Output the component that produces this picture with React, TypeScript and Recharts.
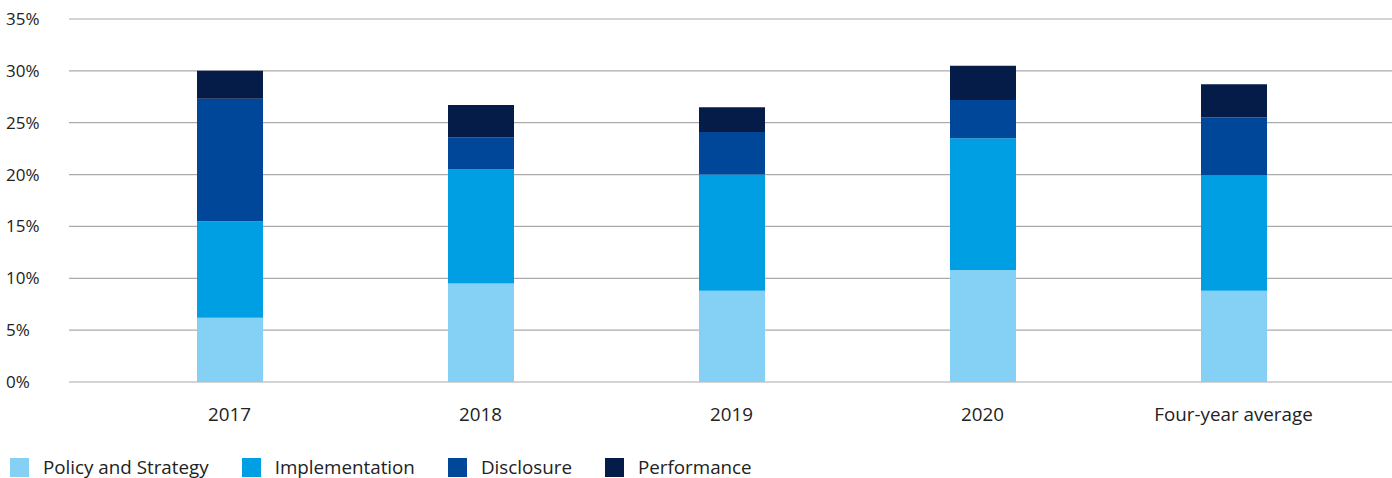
import { BarChart, Bar, XAxis, YAxis, CartesianGrid, Legend } from 'recharts';

const categories = ['2017', '2018', '2019', '2020', 'Four-year average'];
const policyStrategy = [6.2, 9.5, 8.8, 10.8, 8.8];
const implementation = [9.3, 11.0, 11.2, 12.7, 11.1];
const disclosure = [11.8, 3.1, 4.1, 3.7, 5.6];
const performance = [2.7, 3.1, 2.4, 3.3, 3.2];
const yTicks = [0, 5, 10, 15, 20, 25, 30, 35];

const series = [
  { key: 'policy', name: 'Policy and Strategy', color: '#85D1F5' },
  { key: 'implementation', name: 'Implementation', color: '#009FE3' },
  { key: 'disclosure', name: 'Disclosure', color: '#004699' },
  { key: 'performance', name: 'Performance', color: '#051C48' },
];

const data = categories.map((name, i) => ({
  name,
  policy: policyStrategy[i],
  implementation: implementation[i],
  disclosure: disclosure[i],
  performance: performance[i],
}));

const font = '"Open Sans", "Noto Sans", sans-serif';

const YTick = ({ y, payload }: any) => (
  <text x={6} y={y} dy={6} textAnchor="start" fill="#222" fontSize={17} fontFamily={font}>
    {`${payload.value}%`}
  </text>
);

const LegendContent = () => (
  <div style={{ display: 'flex', alignItems: 'center', paddingLeft: 10, paddingTop: 22, fontFamily: font, fontSize: 18.8, color: '#222', lineHeight: '26px' }}>
    {series.map((s) => (
      <div key={s.key} style={{ display: 'flex', alignItems: 'center', marginRight: 33 }}>
        <span style={{ width: 19, height: 19, background: s.color, marginRight: 14, display: 'inline-block' }} />
        <span>{s.name}</span>
      </div>
    ))}
  </div>
);

export default function App() {
  return (
    <div style={{ position: 'absolute', left: 0, top: 0, background: '#fff' }}>
      <BarChart width={1392} height={478} data={data} margin={{ top: 19, right: 0, left: 0, bottom: 0 }}>
        <CartesianGrid horizontal vertical={false} stroke="#aaa" strokeWidth={1.2} />
        <XAxis
          dataKey="name"
          axisLine={false}
          tickLine={false}
          padding={{ left: 35, right: 33 }}
          height={50}
          tickMargin={20}
          tick={{ fill: '#222', fontSize: 18.8, fontFamily: font }}
          interval={0}
        />
        <YAxis
          width={69}
          domain={[0, 35]}
          ticks={yTicks}
          axisLine={false}
          tickLine={false}
          tick={<YTick />}
        />
        <Legend verticalAlign="bottom" align="left" height={46} content={<LegendContent />} />
        {series.map((s) => (
          <Bar key={s.key} dataKey={s.key} name={s.name} stackId="a" fill={s.color} barSize={66} isAnimationActive={false} />
        ))}
      </BarChart>
    </div>
  );
}
